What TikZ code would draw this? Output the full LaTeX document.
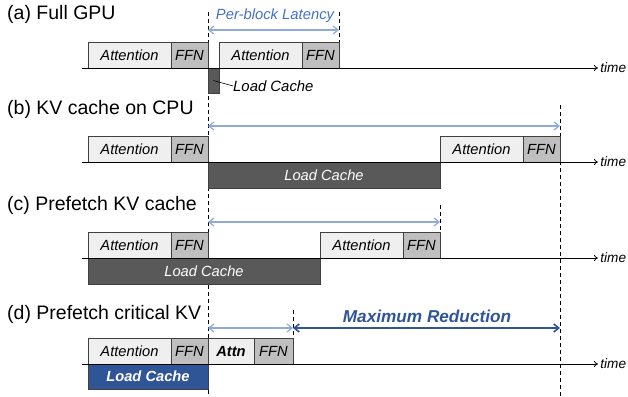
\documentclass[tikz,border=0pt]{standalone}
\usepackage{fontspec}
\setmainfont{Liberation Sans}
\usetikzlibrary{positioning, arrows.meta, backgrounds}

\definecolor{attngray}{HTML}{EFEFEF}
\definecolor{ffngray}{HTML}{BFBFBF}
\definecolor{cachegray}{HTML}{595959}
\definecolor{cacheblue}{HTML}{2F5597}
\definecolor{spanblue}{HTML}{8FAADC}
\definecolor{textblue}{HTML}{4472C4}

\tikzset{
  blk/.style={draw=black!75, line width=0.8pt, minimum height=26pt, inner sep=0pt, outer sep=0pt,
    font=\fontsize{14.7}{14.7}\selectfont\itshape},
  attn/.style={blk, fill=attngray, minimum width=83pt},
  ffn/.style={blk, fill=ffngray, minimum width=37pt},
  cache/.style={blk, fill=cachegray, text=white},
  title/.style={anchor=west, inner sep=0pt, font=\fontsize{19.5}{19.5}\selectfont},
  timeline/.style={-{To[length=4pt,width=6pt]}, line width=0.8pt},
  tlabel/.style={right, inner sep=2pt, font=\fontsize{13.6}{13.6}\selectfont\itshape},
  guide/.style={line width=0.8pt, dash pattern=on 4pt off 3pt},
  span/.style={{Straight Barb[length=5pt,width=8pt]}-{Straight Barb[length=5pt,width=8pt]}, spanblue, line width=1.2pt},
  bigspan/.style={span, cacheblue, line width=1.6pt},
}

\begin{document}
\begin{tikzpicture}[x=1pt, y=-1pt, node distance=0pt]
\useasboundingbox (0,0) rectangle (628,396);

% (a) full GPU
\node[title] (ta) at (7,14) {(a) Full GPU};
\node[attn, anchor=north west] (a1) at (88,42) {Attention};
\node[ffn, right=of a1] (f1) {FFN};
\node[cache, minimum width=11pt, minimum height=25pt, anchor=north west] (c1) at (f1.south east) {};
\node[attn, anchor=south west] (a2) at (c1.north east) {Attention};
\node[ffn, right=of a2] (f2) {FFN};
\node[anchor=west, inner sep=0pt, font=\fontsize{14.9}{14.9}\selectfont\itshape] (lc1) at (233,86) {Load Cache};
\draw[line width=0.6pt] (c1.center) -- (lc1.west);
\draw[timeline] (82,68) -- (598,68) node[tlabel] (tma) {time};

% (b) KV cache on CPU
\node[title] (tb) at (7,109) {(b) KV cache on CPU};
\node[attn, anchor=north west] (a3) at (88,136) {Attention};
\node[ffn, right=of a3] (f3) {FFN};
\node[cache, minimum width=232pt, anchor=north west] (c3) at (f3.south east) {Load Cache};
\node[attn, anchor=south west] (a4) at (c3.north east) {Attention};
\node[ffn, right=of a4] (f4) {FFN};
\draw[timeline] (82,162) -- (598,162) node[tlabel] (tmb) {time};

% (c) prefetch KV cache
\node[title] (tc) at (7,205) {(c) Prefetch KV cache};
\node[attn, anchor=north west] (a5) at (88,232) {Attention};
\node[ffn, right=of a5] (f5) {FFN};
\node[cache, minimum width=232pt, anchor=north west] (c5) at (a5.south west) {Load Cache};
\node[attn, anchor=south west] (a6) at (c5.north east) {Attention};
\node[ffn, right=of a6] (f6) {FFN};
\draw[timeline] (82,258) -- (598,258) node[tlabel] (tmc) {time};

% (d) prefetch critical KV
\node[title] (td) at (7,314) {(d) Prefetch critical KV};
\node[attn, anchor=north west] (a7) at (88,338) {Attention};
\node[ffn, right=of a7] (f7) {FFN};
\node[attn, minimum width=46pt, font=\fontsize{14.7}{14.7}\selectfont\bfseries\itshape, right=of f7] (a8) {Attn};
\node[ffn, minimum width=39pt, right=of a8] (f8) {FFN};
\node[cache, fill=cacheblue, minimum width=120pt, minimum height=25pt,
  font=\fontsize{14.7}{14.7}\selectfont\bfseries\itshape, anchor=north west] (c7) at (a7.south west) {Load Cache};
\draw[timeline] (82,364) -- (598,364) node[tlabel] (tmd) {time};

% guides, behind the blocks
\begin{scope}[on background layer]
\draw[guide] (f1.east |- 0,12) -- (f1.east |- 0,396);
\draw[guide] (f2.east |- 0,12) -- (f2.north east);
\draw[guide] (f4.east |- 0,105) -- (f4.east |- 0,396);
\draw[guide] (f6.east |- 0,205) -- (f6.north east);
\draw[guide] (f8.east |- 0,310) -- (f8.north east);
\end{scope}

% latencies
\draw[span] (f1.east |- 0,30) -- (f2.east |- 0,30);
\node[text=textblue, font=\fontsize{14.8}{14.8}\selectfont\itshape] (lat) at (275,16) {Per-block Latency};
\draw[span] (f1.east |- 0,126) -- (f4.east |- 0,126);
\draw[span] (f1.east |- 0,222) -- (f6.east |- 0,222);
\draw[span] (f1.east |- 0,328) -- (f8.east |- 0,328);
\draw[bigspan] (f8.east |- 0,328) -- (f4.east |- 0,328);
\node[text=cacheblue, font=\fontsize{17.2}{17.2}\selectfont\bfseries\itshape] (red) at (427,316) {Maximum Reduction};
\end{tikzpicture}
\end{document}
